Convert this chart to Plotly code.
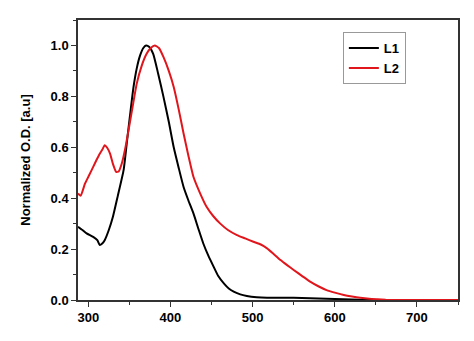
import plotly.graph_objects as go

# L1 (black)
l1_x = [287.5, 293, 298, 306, 311, 314, 317, 320, 325, 330, 336, 343, 347, 351, 355, 359, 363, 367, 370.4, 374, 379, 385, 391.6, 398, 404, 410, 416, 422, 428, 434, 440, 446, 452.5, 458, 465, 471, 477, 485, 493, 505, 517.6, 550, 590, 631, 670, 750]
l1_y = [0.288, 0.275, 0.262, 0.248, 0.235, 0.216, 0.222, 0.235, 0.275, 0.327, 0.41, 0.51, 0.62, 0.73, 0.835, 0.91, 0.96, 0.99, 1.0, 0.995, 0.967, 0.89, 0.797, 0.70, 0.60, 0.52, 0.444, 0.39, 0.34, 0.28, 0.222, 0.175, 0.131, 0.095, 0.065, 0.045, 0.033, 0.022, 0.016, 0.011, 0.009, 0.009, 0.005, 0.001, 0.0, 0.0]

# L2 (red)
l2_x = [287.5, 290.8, 296, 301, 306, 310, 314, 317, 320, 323, 326.5, 330, 334, 337, 340.8, 345, 349, 354, 359, 365, 371, 376, 381, 386, 391.6, 398, 404, 410, 416, 422, 428, 436, 444, 452, 460.7, 470, 481, 491, 501, 510, 517.6, 525, 534, 542, 550, 560, 570, 580, 590, 600, 611, 621, 631, 642, 652, 662, 672, 700, 750]
l2_y = [0.418, 0.41, 0.457, 0.49, 0.523, 0.55, 0.575, 0.59, 0.608, 0.598, 0.575, 0.535, 0.503, 0.505, 0.536, 0.595, 0.667, 0.76, 0.85, 0.92, 0.967, 0.99, 1.0, 0.99, 0.954, 0.90, 0.837, 0.75, 0.654, 0.565, 0.484, 0.42, 0.366, 0.33, 0.30, 0.275, 0.255, 0.242, 0.229, 0.218, 0.203, 0.183, 0.157, 0.137, 0.118, 0.095, 0.072, 0.054, 0.039, 0.029, 0.02, 0.014, 0.009, 0.005, 0.003, 0.001, 0.0, 0.0, 0.0]

x_ticks = [300, 400, 500, 600, 700]
y_ticks = [0.0, 0.2, 0.4, 0.6, 0.8, 1.0]
y_tick_labels = ["0.0", "0.2", "0.4", "0.6", "0.8", "1.0"]

fig = go.Figure()
fig.add_trace(go.Scatter(x=l1_x, y=l1_y, mode="lines", name="L1",
                         line=dict(color="black", width=2, shape="spline", smoothing=0.5)))
fig.add_trace(go.Scatter(x=l2_x, y=l2_y, mode="lines", name="L2",
                         line=dict(color="#e0161c", width=2, shape="spline", smoothing=0.5)))

font_family = "Liberation Sans, Arial, sans-serif"
fig.update_layout(
    width=466, height=333,
    margin=dict(l=70, r=16, t=12, b=41),
    paper_bgcolor="white", plot_bgcolor="white",
    font=dict(family=font_family, color="black"),
    legend=dict(x=0.697, y=0.864, xanchor="left", yanchor="middle",
                bordercolor="#999999", borderwidth=1, bgcolor="white",
                font=dict(size=13, family=font_family, color="black", weight="bold"),
                itemwidth=30, tracegroupgap=0),
    xaxis=dict(range=[287.5, 750], tickvals=x_ticks, ticks="outside", ticklen=5,
               tickwidth=1.2, tickcolor="#333", automargin=False,
               minor=dict(dtick=50, tick0=0, ticks="outside", ticklen=3, tickcolor="#333"),
               showline=True, linecolor="#333", linewidth=1.5, mirror=True,
               showgrid=False, zeroline=False,
               tickfont=dict(size=13, family=font_family, weight="bold")),
    yaxis=dict(range=[0, 1.1], tickvals=y_ticks, ticktext=y_tick_labels, ticks="outside",
               ticklen=5, tickwidth=1.2, tickcolor="#333", automargin=False,
               minor=dict(dtick=0.1, tick0=0, ticks="outside", ticklen=3, tickcolor="#333"),
               showline=True, linecolor="#333", linewidth=1.5, mirror=True,
               showgrid=False, zeroline=False,
               title=dict(text="Normalized O.D. [a.u]", standoff=17,
                          font=dict(size=13, family=font_family, weight="bold")),
               tickfont=dict(size=13, family=font_family, weight="bold")),
)

fig.write_html("out.html")
